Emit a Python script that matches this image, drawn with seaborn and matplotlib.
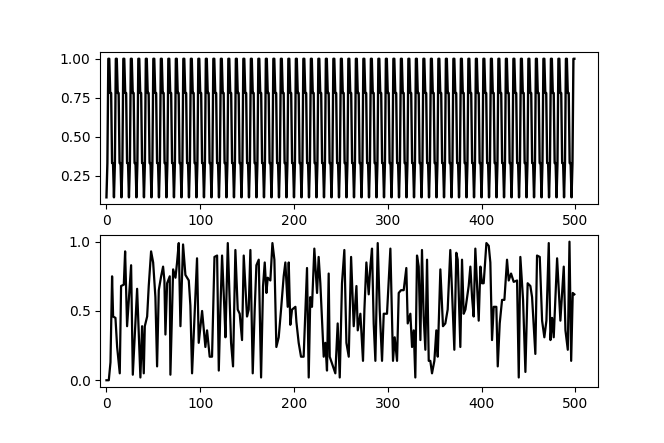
import numpy as np
import pandas as pd
import matplotlib
matplotlib.use("Agg")
import matplotlib.pyplot as plt
import seaborn as sns

# ---- data ----
# top panel: repeating cycle of 8 samples, 500 samples total
top_cycle = [0.11, 0.33, 1.0, 1.0, 0.78, 0.78, 0.33, 0.33]
top_n = 500

# bottom panel: traced points (x, value)
bot_x = [0, 2.5, 4.3, 6.0, 7.1, 9.6, 11.4, 14.2, 15.6, 18.5, 19.9, 22.0, 26.3, 28.1, 32.7, 36.2,
         38.0, 39.8, 40.9, 43.4, 45.1, 47.6, 49.8, 52.2, 54.0, 55.8, 58.3, 60.4, 61.8, 62.9, 64.7,
         67.5, 68.2, 71.1, 73.6, 75.3, 77.1, 78.9, 81.7, 84.2, 87.8, 89.5, 91.3, 96.6, 98.4, 102.0,
         105.5, 107.3, 110.1,
         112.6, 115.2, 118.0, 119.8, 121.5, 123.3, 125.8, 126.9, 129.4, 132.9, 135.0, 137.5, 140.0,
         142.1, 144.6, 146.4, 149.9, 151.7, 153.5, 156.0, 158.1, 159.9, 162.4, 164.9, 167.0, 168.8,
         170.6, 172.0, 174.8, 177.0, 179.1, 181.2, 183.7, 186.2, 189.0, 190.8, 193.3, 194.4, 196.1,
         197.9, 201.5, 202.6, 205.0, 207.5, 210.3, 213.9, 215.7, 217.4, 219.2, 221.7, 224.6, 226.3,
         228.1, 231.7, 233.4, 235.2, 237.0, 238.1,
         244.1, 246.6, 248.8, 251.2, 253.7, 255.9, 258.4, 260.9, 263.7, 266.6, 268.0, 270.8, 273.6,
         275.1, 277.2, 279.7, 281.4, 283.2, 285.0, 286.8, 289.3, 291.4, 293.9, 295.7, 299.2, 302.8,
         305.6, 307.4, 309.9, 311.7, 314.2, 317.0, 319.8, 321.3, 324.1, 325.9, 327.7, 329.4, 331.2,
         333.0, 334.8, 336.5, 338.3, 340.1, 341.9, 343.7, 345.4, 347.2, 349.7, 351.8, 353.3, 356.1,
         358.9, 361.4, 363.9, 366.7,
         368.5, 371.0, 373.1, 374.6, 377.4, 379.2, 381.0, 382.8, 386.3, 388.1, 389.9, 391.6, 393.4,
         397.0, 398.8, 400.5, 402.3, 405.2, 407.7, 409.4, 411.2, 413.0, 415.8, 417.3, 419.4, 421.9,
         424.4, 427.2, 429.0, 431.5, 434.3, 437.9, 439.7, 441.4, 444.3, 446.8, 449.2, 452.1, 453.9,
         457.4, 459.2, 462.1, 464.6, 467.0, 469.2, 471.7, 473.5, 475.3, 477.0, 480.6, 484.1, 487.7,
         489.5, 492.0, 493.8, 495.6, 497.3, 499.0]
bot_y = [0.0, 0.0, 0.13, 0.75, 0.46, 0.45, 0.24, 0.05, 0.68, 0.69, 0.93, 0.39, 0.83, 0.04, 0.66, 0.02,
         0.39, 0.05, 0.39, 0.46, 0.68, 0.93, 0.85, 0.60, 0.10, 0.65, 0.75, 0.82, 0.72, 0.33, 0.70,
         0.75, 0.04, 0.80, 0.74, 0.85, 0.99, 0.39, 0.98, 0.76, 0.72, 0.54, 0.05, 0.88, 0.27, 0.50,
         0.24, 0.36, 0.17,
         0.17, 0.89, 0.90, 0.07, 0.51, 0.90, 0.51, 0.31, 0.99, 0.27, 0.10, 0.94, 0.51,
         0.48, 0.29, 0.90, 0.46, 0.51, 0.94, 0.05, 0.51, 0.83, 0.87, 0.02, 0.68, 0.85,
         0.63, 0.74, 0.72, 0.99, 0.87, 0.24, 0.31, 0.51, 0.75, 0.85, 0.53, 0.85, 0.40,
         0.51, 0.53, 0.42, 0.27, 0.17, 0.17, 0.81, 0.02, 0.60, 0.53, 0.95, 0.63, 0.89,
         0.70, 0.17, 0.27, 0.07, 0.77, 0.17,
         0.05, 0.41, 0.02, 0.70, 0.94, 0.27, 0.17, 0.89, 0.39, 0.68, 0.36, 0.48, 0.14,
         0.51, 0.85, 0.62, 0.82, 0.95, 0.41, 0.14, 0.99, 0.51, 0.14, 0.48, 0.48, 0.95,
         0.14, 0.31, 0.14, 0.63, 0.65, 0.65, 0.81, 0.41, 0.48, 0.24, 0.36, 0.02, 0.90,
         0.82, 0.29, 0.94, 0.46, 0.22, 0.87, 0.14, 0.14, 0.05, 0.14, 0.36, 0.17, 0.80,
         0.39, 0.41, 0.51, 0.94,
         0.65, 0.22, 0.92, 0.87, 0.24, 0.87, 0.48, 0.51, 0.68, 0.82, 0.60, 0.46, 0.95,
         0.43, 0.82, 0.70, 0.70, 0.99, 0.97, 0.85, 0.29, 0.53, 0.53, 0.10, 0.41, 0.58,
         0.58, 0.87, 0.72, 0.77, 0.71, 0.72, 0.02, 0.89, 0.58, 0.06, 0.70, 0.68, 0.60,
         0.19, 0.90, 0.89, 0.43, 0.31, 0.43, 0.99, 0.29, 0.45, 0.31, 0.88, 0.43, 0.82,
         0.36, 0.22, 1.0, 0.14, 0.63, 0.62]

top_y = [top_cycle[i % len(top_cycle)] for i in range(top_n)]
top_df = pd.DataFrame({"x": np.arange(top_n), "y": top_y})
bot_df = pd.DataFrame({"x": bot_x, "y": bot_y})

fig, (ax1, ax2) = plt.subplots(2, 1, figsize=(6.64, 4.43), dpi=100)
fig.subplots_adjust(left=0.151, right=0.901, top=0.883, bottom=0.126, hspace=0.2)

sns.lineplot(data=top_df, x="x", y="y", ax=ax1, color="black", linewidth=1.7)
sns.lineplot(data=bot_df, x="x", y="y", ax=ax2, color="black", linewidth=1.6)

for ax in (ax1, ax2):
    ax.set_xlabel("")
    ax.set_ylabel("")
    ax.set_xticks([0, 100, 200, 300, 400, 500])
    ax.set_xlim(-6.6, 524.5)

ax1.set_yticks([0.25, 0.50, 0.75, 1.00])
ax2.set_yticks([0.0, 0.5, 1.0])

fig.savefig("out.png", dpi=100)
